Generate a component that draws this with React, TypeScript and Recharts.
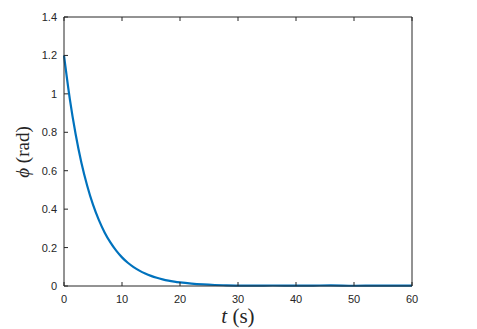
import React from 'react';
import { LineChart, Line, XAxis, YAxis } from 'recharts';

// time samples (s) and angle (rad)
const times = [0, 1, 2, 3, 4, 5, 6, 7, 8, 9, 10, 11, 12, 13, 14, 15, 16, 17, 18, 19, 20, 22, 24, 26, 28, 30, 33, 36, 40, 43, 46, 50, 54, 57, 60];
const phi = [
  1.2, 0.974, 0.791, 0.642, 0.522, 0.423, 0.344, 0.279, 0.227, 0.184, 0.149, 0.121, 0.0985, 0.08, 0.065, 0.0527,
  0.0428, 0.0348, 0.0282, 0.0229, 0.0186, 0.0123, 0.0081, 0.0053, 0.0035, 0.0023, 0.0018, 0.0025, 0.0015, 0.0022,
  0.003, 0.0012, 0.002, 0.0016, 0.0021,
];
const xTicks = [0, 10, 20, 30, 40, 50, 60];
const yTicks = [0, 0.2, 0.4, 0.6, 0.8, 1, 1.2, 1.4];

const data = times.map((t, i) => ({ t, phi: phi[i] }));

const AXIS = '#262626';
const TICK_FONT = '"Liberation Sans", Arial, sans-serif';
const LABEL_FONT = '"Liberation Serif", "DejaVu Serif", serif';
const TICK_LEN = 4;

const BottomTick = (props: any) => {
  const { x, y, payload } = props;
  return (
    <g>
      <line x1={x} y1={y} x2={x} y2={y - TICK_LEN} stroke={AXIS} strokeWidth={1} />
      <text x={x} y={y + 17} textAnchor="middle" fill={AXIS} fontSize={11} fontFamily={TICK_FONT}>
        {payload.value}
      </text>
    </g>
  );
};

const LeftTick = (props: any) => {
  const { x, y, payload } = props;
  return (
    <g>
      <line x1={x} y1={y} x2={x + TICK_LEN} y2={y} stroke={AXIS} strokeWidth={1} />
      <text x={x - 7} y={y + 4} textAnchor="end" fill={AXIS} fontSize={11} fontFamily={TICK_FONT}>
        {payload.value}
      </text>
    </g>
  );
};

const TopTick = (props: any) => {
  const { x, y } = props;
  return <line x1={x} y1={y} x2={x} y2={y + TICK_LEN} stroke={AXIS} strokeWidth={1} />;
};

const RightTick = (props: any) => {
  const { x, y } = props;
  return <line x1={x} y1={y} x2={x - TICK_LEN} y2={y} stroke={AXIS} strokeWidth={1} />;
};

export default function App() {
  return (
    <div style={{ position: 'absolute', left: 0, top: 0, width: 477, height: 329, background: '#fff' }}>
      <LineChart width={477} height={329} data={data} margin={{ top: 0, right: 0, left: 0, bottom: 0 }}>
        <XAxis
          dataKey="t"
          type="number"
          domain={[0, 60]}
          ticks={xTicks}
          tickSize={0}
          tickMargin={0}
          tickLine={false}
          height={43}
          axisLine={{ stroke: AXIS }}
          tick={<BottomTick />}
          interval={0}
        />
        <XAxis
          xAxisId="top"
          orientation="top"
          dataKey="t"
          type="number"
          domain={[0, 60]}
          ticks={xTicks}
          tickSize={0}
          tickMargin={0}
          tickLine={false}
          height={17}
          axisLine={{ stroke: AXIS }}
          tick={<TopTick />}
          interval={0}
        />
        <YAxis
          type="number"
          domain={[0, 1.4]}
          ticks={yTicks}
          tickSize={0}
          tickMargin={0}
          tickLine={false}
          width={64}
          axisLine={{ stroke: AXIS }}
          tick={<LeftTick />}
          interval={0}
        />
        <YAxis
          yAxisId="right"
          orientation="right"
          type="number"
          domain={[0, 1.4]}
          ticks={yTicks}
          tickSize={0}
          tickMargin={0}
          tickLine={false}
          width={65}
          axisLine={{ stroke: AXIS }}
          tick={<RightTick />}
          interval={0}
        />
        <Line
          type="monotone"
          dataKey="phi"
          stroke="#0072BD"
          strokeWidth={2.2}
          dot={false}
          isAnimationActive={false}
        />
        <text x={238} y={323} textAnchor="middle" fill={AXIS} fontSize={21} fontFamily={LABEL_FONT}>
          <tspan fontStyle="italic">t</tspan> (s)
        </text>
        <text
          x={0}
          y={0}
          transform="translate(29 152) rotate(-90)"
          textAnchor="middle"
          fill={AXIS}
          fontSize={19}
          fontFamily={LABEL_FONT}
        >
          <tspan fontStyle="italic">ϕ</tspan> (rad)
        </text>
      </LineChart>
    </div>
  );
}
